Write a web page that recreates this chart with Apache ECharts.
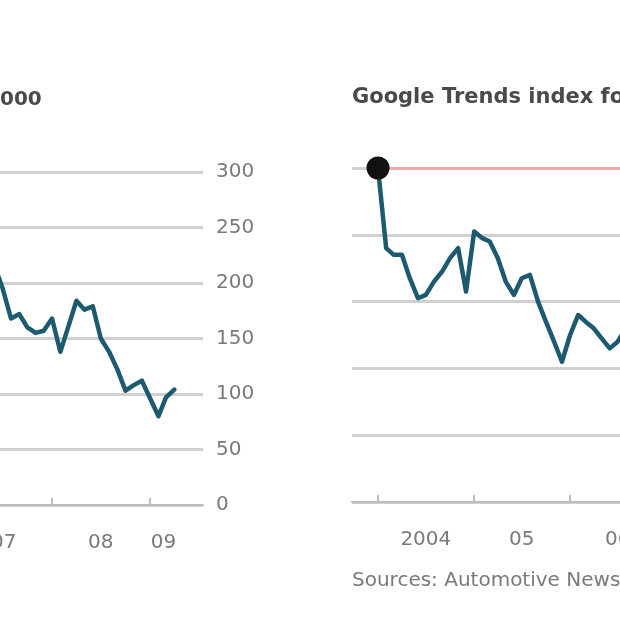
<!DOCTYPE html>
<html><head><meta charset="utf-8">
<script src="https://cdn.jsdelivr.net/npm/echarts@6/dist/echarts.min.js"></script>
<style>
html,body{margin:0;padding:0;overflow:hidden;background:#fff;width:620px;height:620px}
#c{position:absolute;left:-40px;top:0;width:1040px;height:620px}
</style>
</head><body><div id="c"></div>
<script>
// ---- data ----
const salesMonths = ['2007-06','2007-07','2007-08','2007-09','2007-10','2007-11','2007-12',
  '2008-01','2008-02','2008-03','2008-04','2008-05','2008-06','2008-07','2008-08','2008-09',
  '2008-10','2008-11','2008-12','2009-01','2009-02','2009-03','2009-04'];
const salesValues = [215,195,168,172,160,155,157,168,138,160,184,176,179,150,138,122,103,108,112,96,80,97,104];

const trendMonths = ['2004-01','2004-02','2004-03','2004-04','2004-05','2004-06','2004-07','2004-08',
  '2004-09','2004-10','2004-11','2004-12','2005-01','2005-02','2005-03','2005-04','2005-05','2005-06',
  '2005-07','2005-08','2005-09','2005-10','2005-11','2005-12','2006-01','2006-02','2006-03','2006-04',
  '2006-05','2006-06','2006-07','2006-08'];
const trendValues = [100,76,74,74,67,61,62,66,69,73,76,63,81,79,78,73,66,62,67,68,60,54,48,42,50,56,54,52,49,46,48,52];

const salesYTicks = [0,50,100,150,200,250,300];
const trendYTicks = [0,20,40,60,80,100];
const salesXLabels = ['07','08','09'];
const salesXLabelDates = ['2007-07-05','2008-07-01','2009-02-20'];
const salesXTickDates = ['2008-01-01','2009-01-01'];
const trendXLabels = ['2004','05','06'];
const trendXLabelDates = ['2004-07-01','2005-07-01','2006-07-01'];
const trendXTickDates = ['2004-01-01','2005-01-01','2006-01-01','2007-01-01'];

// ---- helpers ----
function t(s){ const p = s.split('-').map(Number); return Date.UTC(p[0], p[1]-1, p[2]||1); }
const LINE = '#1d5a70', GRID = '#d0d0d0', AXIS = '#bdbdbd', LBL = '#7a7a7a';
const FONT = 'DejaVu Sans';

function xAxisFor(gridIndex, min, max, labels, labelDates, tickDates){
  const lv = labelDates.map(t);
  return {
    type:'value', gridIndex, min:t(min), max:t(max),
    axisLine:{show:true, onZero:false, lineStyle:{color:AXIS, width:2}},
    axisTick:{show:true, inside:true, length:7, customValues:tickDates.map(t), lineStyle:{color:AXIS, width:2}},
    axisLabel:{show:true, customValues:lv, margin:28, color:LBL, fontSize:20, fontFamily:FONT,
      showMinLabel:true, showMaxLabel:true,
      formatter:function(v){ let best=0, bd=Infinity; lv.forEach((x,i)=>{const d=Math.abs(x-v); if(d<bd){bd=d;best=i;}}); return labels[best]; }},
    splitLine:{show:false}
  };
}
function yAxisFor(gridIndex, ticks){
  return {
    type:'value', gridIndex, position:'right', min:ticks[0], max:ticks[ticks.length-1],
    interval:ticks[1]-ticks[0],
    axisLine:{show:false}, axisTick:{show:false},
    axisLabel:{show:true, margin:13, color:LBL, fontSize:20, fontFamily:FONT},
    splitLine:{show:true, lineStyle:{color:GRID, width:3}}
  };
}

const chart = echarts.init(document.getElementById('c'), null, {renderer:'canvas'});
chart.setOption({
  animation:false,
  backgroundColor:'#fff',
  grid:[
    {left:40, right:797, top:172, bottom:115},
    {left:392, right:334, top:168, bottom:118}
  ],
  xAxis:[
    xAxisFor(0,'2007-06-21','2009-07-17',salesXLabels,salesXLabelDates,salesXTickDates),
    xAxisFor(1,'2003-09-24','2007-01-01',trendXLabels,trendXLabelDates,trendXTickDates)
  ],
  yAxis:[ yAxisFor(0, salesYTicks), yAxisFor(1, trendYTicks) ],
  series:[
    {type:'line', xAxisIndex:0, yAxisIndex:0, showSymbol:false, symbol:'none',
     data: salesMonths.map((m,i)=>[t(m), salesValues[i]]),
     lineStyle:{color:LINE, width:4.5, join:'round', cap:'round'}, z:5},
    {type:'line', xAxisIndex:1, yAxisIndex:1, showSymbol:false, symbol:'none',
     data: trendMonths.map((m,i)=>[t(m), trendValues[i]]),
     lineStyle:{color:LINE, width:4.5, join:'round', cap:'round'}, z:5,
     markLine:{silent:true, symbol:'none', label:{show:false},
       lineStyle:{color:'#efa9a9', width:3, type:'solid'},
       data:[[{coord:[t(trendMonths[0]), trendYTicks[trendYTicks.length-1]]},{coord:[t('2007-01-01'), trendYTicks[trendYTicks.length-1]]}]]}
    },
    {type:'scatter', xAxisIndex:1, yAxisIndex:1, symbolSize:23, z:6,
     itemStyle:{color:'#111', opacity:1},
     data:[[t(trendMonths[0]), trendValues[0]]]}
  ],
  graphic:[
    {type:'text', left:40, top:90, style:{text:'000', fill:'#4a4a4a', font:'bold 20px "DejaVu Sans"'}},
    {type:'text', left:392, top:87, style:{text:'Google Trends index for \u201cHummer\u201d', fill:'#4a4a4a', font:'bold 21px "DejaVu Sans"'}},
    {type:'text', left:392, top:571, style:{text:'Sources: Automotive News; Google', fill:'#7a7a7a', font:'20px "DejaVu Sans"'}}
  ]
});
</script>
</body></html>
